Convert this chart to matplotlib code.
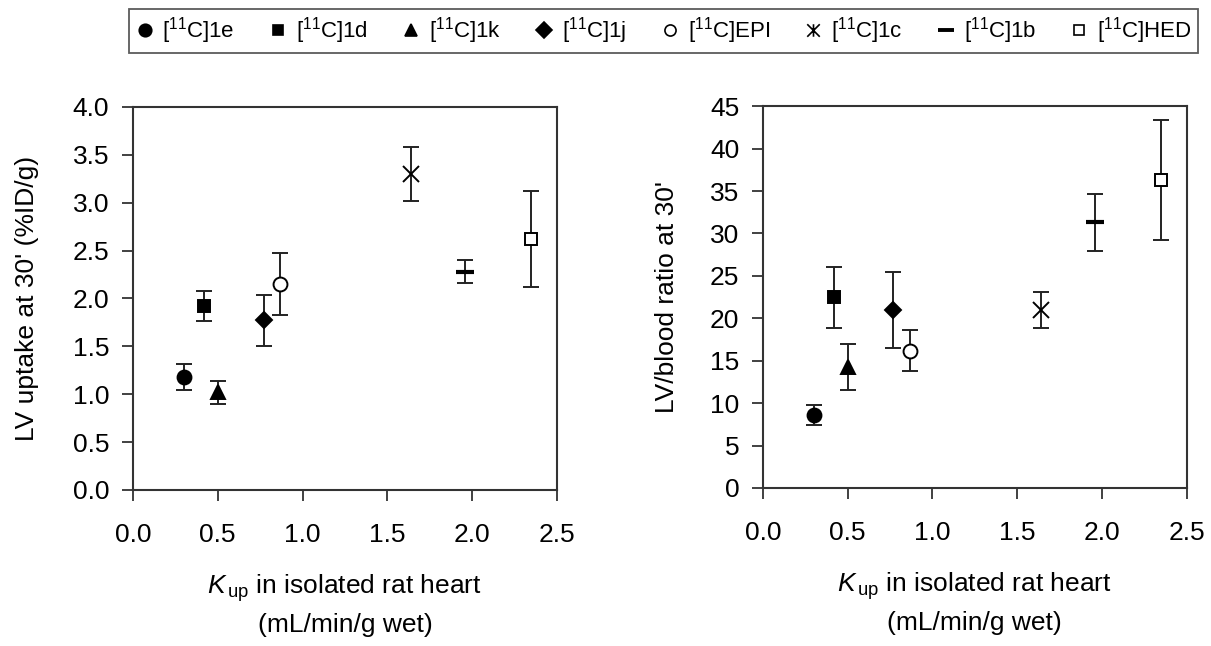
import numpy as np
import matplotlib.pyplot as plt
from matplotlib.path import Path
from matplotlib.lines import Line2D

plt.rcParams['font.family'] = ['Liberation Sans', 'DejaVu Sans']
plt.rcParams['mathtext.fontset'] = 'custom'
plt.rcParams['mathtext.rm'] = 'Liberation Sans'
plt.rcParams['mathtext.it'] = 'Liberation Sans:italic'

# compounds, in legend order
names = ['[$^{11}$C]1e', '[$^{11}$C]1d', '[$^{11}$C]1k', '[$^{11}$C]1j',
         '[$^{11}$C]EPI', '[$^{11}$C]1c', '[$^{11}$C]1b', '[$^{11}$C]HED']

# Kup in isolated rat heart
kup = [0.30, 0.42, 0.50, 0.77, 0.87, 1.64, 1.96, 2.35]

# LV uptake at 30' (%ID/g)
uptake = [1.18, 1.92, 1.02, 1.77, 2.15, 3.30, 2.28, 2.62]
uptake_err = [0.14, 0.16, 0.12, 0.27, 0.32, 0.28, 0.12, 0.50]

# LV/blood ratio at 30'
ratio = [8.6, 22.5, 14.3, 21.0, 16.2, 21.0, 31.3, 36.3]
ratio_err = [1.2, 3.6, 2.7, 4.5, 2.4, 2.1, 3.4, 7.1]

# x with a vertical stroke, like the legend glyph for 1c
xbar = Path([(-1, -1), (1, 1), (-1, 1), (1, -1), (0, -1), (0, 1)],
            [Path.MOVETO, Path.LINETO, Path.MOVETO, Path.LINETO, Path.MOVETO, Path.LINETO])

markers = ['o', 's', '^', 'D', 'o', 'x', '_', 's']
faces = ['black', 'black', 'black', 'black', 'white', 'none', 'black', 'white']
sizes = [10, 8, 10, 8, 10, 11, 13, 8]
mews = [1.4, 1.4, 1.4, 1.4, 1.4, 1.4, 3.0, 1.4]
leg_markers = ['o', 's', '^', 'D', 'o', xbar, '_', 's']
leg_sizes = [9, 7, 9, 8, 8, 9, 12, 7]
leg_mews = [1.2, 1.2, 1.2, 1.2, 1.2, 1.2, 2.8, 1.2]

fig = plt.figure(figsize=(12.11, 6.46), dpi=100)
ax1 = fig.add_axes([0.1098, 0.2415, 0.350, 0.593])
ax2 = fig.add_axes([0.630, 0.2446, 0.350, 0.591])

def draw(ax, y, yerr):
    ax.errorbar(kup, y, yerr=yerr, fmt='none', ecolor='#222222',
                elinewidth=1.4, capsize=6, capthick=1.4)
    for i in range(len(kup)):
        ax.plot(kup[i], y[i], ls='none', marker=markers[i], mfc=faces[i],
                mec='black', ms=sizes[i], mew=mews[i], zorder=3)
    ax.set_xlim(0, 2.5)
    ax.set_xticks(np.arange(0, 2.51, 0.5))
    ax.set_xticklabels(['%.1f' % v for v in np.arange(0, 2.51, 0.5)])
    ax.tick_params(direction='out', length=8, width=1.3, labelsize=19,
                   color='#333333')
    ax.tick_params(axis='x', pad=16)
    ax.tick_params(axis='y', pad=9)
    for s in ax.spines.values():
        s.set_linewidth(1.5)
        s.set_color('#333333')
    ax.set_xlabel('$\\mathit{K}_{\\,\\mathrm{up}}$ in isolated rat heart\n(mL/min/g wet)',
                  fontsize=19, labelpad=18, linespacing=1.45)

draw(ax1, uptake, uptake_err)
ax1.set_ylim(0, 4.0)
ax1.set_yticks(np.arange(0, 4.01, 0.5))
ax1.set_yticklabels(['%.1f' % v for v in np.arange(0, 4.01, 0.5)])
ax1.set_ylabel("LV uptake at 30' (%ID/g)", fontsize=19, labelpad=24)

draw(ax2, ratio, ratio_err)
ax2.set_ylim(0, 45)
ax2.set_yticks(np.arange(0, 46, 5))
ax2.set_ylabel("LV/blood ratio at 30'", fontsize=19, labelpad=22)

handles = [Line2D([], [], ls='none', marker=leg_markers[i], mfc=faces[i],
                  mec='black', ms=leg_sizes[i], mew=leg_mews[i], color='black')
           for i in range(len(names))]
leg = fig.legend(handles, names, loc='upper center', ncol=8,
                 bbox_to_anchor=(0.548, 1.004), fontsize=16, frameon=True,
                 fancybox=False, edgecolor='#333333', handlelength=0.8,
                 handletextpad=0.4, columnspacing=1.55, borderpad=0.3)
leg.get_frame().set_linewidth(1.3)

fig.savefig('out.png', dpi=100)
